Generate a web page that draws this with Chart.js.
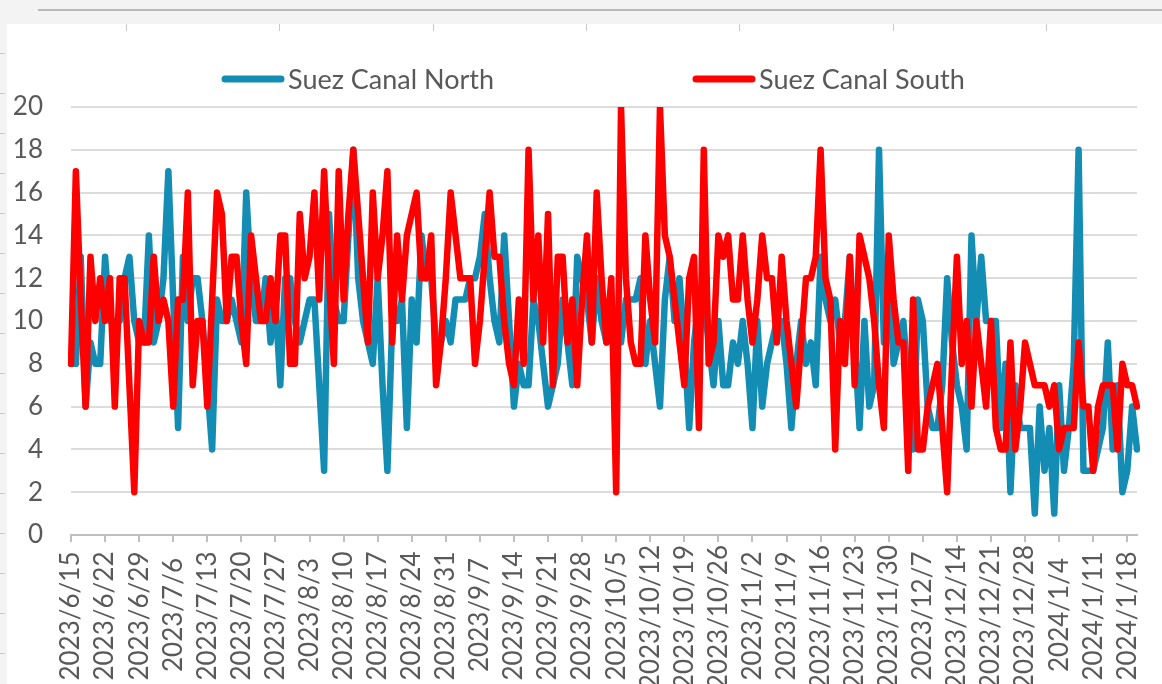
<!DOCTYPE html>
<html>
<head>
<meta charset="utf-8">
<title>Suez Canal North / South</title>
<script src="https://cdn.jsdelivr.net/npm/chart.js@4.4.1/dist/chart.umd.min.js"></script>
<style>
  html, body { margin: 0; padding: 0; width: 1162px; height: 684px; overflow: hidden; background: #f3f3f3; }
  .frame-line { position: absolute; left: 38px; top: 9px; width: 1124px; border-top: 2px solid #b9b9b9; }
  .panel { position: absolute; left: 7px; top: 24px; width: 1155px; height: 660px; background: #ffffff; }
  .chart-box { position: absolute; left: 0; top: 0; width: 1162px; height: 760px; }
</style>
</head>
<body>
<div class="frame-line"></div>
<div class="panel"></div>
<div class="chart-box"><canvas id="chart"></canvas></div>
<script>
// --- datos diarios de tránsitos, 2023/6/15 a 2024/1/20 ---
const START_DATE = [2023, 6, 15];

const TICK_LABELS = [
    '2023/6/15', '2023/6/22', '2023/6/29', '2023/7/6', '2023/7/13', '2023/7/20', '2023/7/27',
    '2023/8/3', '2023/8/10', '2023/8/17', '2023/8/24', '2023/8/31', '2023/9/7', '2023/9/14',
    '2023/9/21', '2023/9/28', '2023/10/5', '2023/10/12', '2023/10/19', '2023/10/26', '2023/11/2',
    '2023/11/9', '2023/11/16', '2023/11/23', '2023/11/30', '2023/12/7', '2023/12/14', '2023/12/21',
    '2023/12/28', '2024/1/4', '2024/1/11', '2024/1/18'
];

const SUEZ_NORTH = [
    8, 8, 13, 6, 9, 8, 8, 13, 10, 10,
    10, 12, 13, 10, 9, 9, 14, 9, 10, 12,
    17, 11, 5, 13, 10, 12, 12, 10, 7, 4,
    11, 10, 10, 11, 10, 9, 16, 12, 10, 10,
    12, 9, 11, 7, 12, 12, 10, 9, 10, 11,
    11, 7, 3, 15, 11, 10, 10, 14, 18, 12,
    10, 9, 8, 12, 7, 3, 10, 10, 11, 5,
    11, 9, 14, 12, 12, 9, 9, 10, 9, 11,
    11, 11, 12, 12, 13, 15, 12, 10, 9, 14,
    10, 6, 8, 7, 7, 11, 10, 8, 6, 7,
    8, 11, 9, 7, 13, 12, 11, 9, 12, 10,
    9, 10, 9, 9, 11, 11, 11, 12, 8, 10,
    8, 6, 11, 13, 10, 12, 9, 5, 9, 11,
    11, 9, 7, 10, 7, 7, 9, 8, 10, 8,
    5, 10, 6, 8, 9, 10, 10, 8, 5, 8,
    10, 8, 9, 7, 13, 11, 10, 11, 9, 10,
    13, 9, 5, 10, 6, 7, 18, 9, 12, 8,
    9, 10, 7, 4, 11, 10, 6, 5, 5, 7,
    12, 9, 7, 6, 4, 14, 10, 13, 10, 10,
    10, 5, 8, 2, 7, 5, 5, 5, 1, 6,
    3, 5, 1, 7, 3, 5, 8, 18, 3, 3,
    3, 4, 5, 9, 4, 7, 2, 3, 6, 4
];

const SUEZ_SOUTH = [
    8, 17, 11, 6, 13, 10, 12, 10, 12, 6,
    12, 12, 7, 2, 10, 9, 9, 13, 10, 11,
    10, 6, 11, 11, 16, 7, 10, 10, 6, 11,
    16, 15, 10, 13, 13, 10, 8, 14, 12, 10,
    10, 12, 10, 14, 14, 8, 8, 15, 12, 13,
    16, 11, 17, 12, 8, 17, 11, 15, 18, 15,
    12, 9, 16, 12, 14, 17, 9, 14, 11, 14,
    15, 16, 12, 12, 14, 7, 9, 12, 16, 14,
    12, 12, 12, 8, 10, 13, 16, 13, 13, 10,
    8, 7, 11, 8, 18, 11, 14, 9, 15, 7,
    13, 13, 9, 11, 7, 11, 14, 9, 16, 12,
    9, 12, 2, 20, 12, 9, 8, 8, 14, 11,
    9, 20, 14, 13, 11, 9, 7, 12, 13, 5,
    18, 8, 9, 14, 13, 14, 11, 11, 14, 11,
    9, 11, 14, 12, 12, 9, 13, 10, 8, 6,
    9, 12, 12, 13, 18, 12, 11, 4, 10, 8,
    13, 7, 14, 13, 12, 10, 7, 5, 14, 11,
    9, 9, 3, 11, 4, 4, 6, 7, 8, 5,
    2, 8, 13, 8, 10, 6, 10, 8, 6, 10,
    5, 4, 4, 9, 4, 6, 9, 8, 7, 7,
    7, 6, 7, 4, 5, 5, 5, 9, 6, 6,
    3, 6, 7, 7, 7, 4, 8, 7, 7, 6
];

const COLOR_NORTH = '#138db3';
const COLOR_SOUTH = '#ff0000';
const TEXT_COLOR = '#595959';
const FONT = 'Lato';

// 1. Etiquetas de fecha diarias (formato 2023/6/15)
function construirFechas(n) {
    const fechas = [];
    const d = new Date(START_DATE[0], START_DATE[1] - 1, START_DATE[2]);
    for (let i = 0; i < n; i++) {
        fechas.push(`${d.getFullYear()}/${d.getMonth() + 1}/${d.getDate()}`);
        d.setDate(d.getDate() + 1);
    }
    return fechas;
}
const FECHAS = construirFechas(SUEZ_NORTH.length);

// 2. Marcas del marco (estilo captura de Excel)
const marcoExcel = {
    id: 'marcoExcel',
    beforeDraw(chart) {
        const ctx = chart.ctx;
        ctx.save();
        ctx.strokeStyle = '#c9c9c9';
        ctx.lineWidth = 1;
        for (let x = 126; x < 1160; x += 153.3) {
            ctx.beginPath(); ctx.moveTo(Math.round(x) + 0.5, 24); ctx.lineTo(Math.round(x) + 0.5, 31); ctx.stroke();
        }
        for (let y = 53; y < 684; y += 40) {
            ctx.beginPath(); ctx.moveTo(0, y + 0.5); ctx.lineTo(5, y + 0.5); ctx.stroke();
        }
        ctx.restore();
    }
};

// 3. Leyenda superior con muestra de línea
const leyendaLineas = {
    id: 'leyendaLineas',
    afterDraw(chart) {
        const ctx = chart.ctx;
        const y = 79;
        const inicios = [222, 693];
        ctx.save();
        ctx.font = `27px ${FONT}`;
        ctx.textBaseline = 'middle';
        ctx.textAlign = 'left';
        chart.data.datasets.forEach((ds, i) => {
            const x = inicios[i];
            ctx.strokeStyle = ds.borderColor;
            ctx.lineWidth = 7;
            ctx.lineCap = 'round';
            ctx.beginPath();
            ctx.moveTo(x + 3, y);
            ctx.lineTo(x + 59, y);
            ctx.stroke();
            ctx.fillStyle = TEXT_COLOR;
            ctx.fillText(ds.label, x + 66, y + 1);
        });
        ctx.restore();
    }
};

const ctx = document.getElementById('chart').getContext('2d');
new Chart(ctx, {
    type: 'line',
    data: {
        labels: FECHAS,
        datasets: [
            {
                label: 'Suez Canal North',
                data: SUEZ_NORTH,
                borderColor: COLOR_NORTH,
                borderWidth: 6.5,
                order: 2
            },
            {
                label: 'Suez Canal South',
                data: SUEZ_SOUTH,
                borderColor: COLOR_SOUTH,
                borderWidth: 6.5,
                order: 1
            }
        ]
    },
    options: {
        responsive: true,
        maintainAspectRatio: false,
        animation: false,
        layout: { padding: { top: 107, right: 25, left: 0, bottom: 0 } },
        elements: {
            point: { radius: 0, hoverRadius: 0 },
            line: { tension: 0, borderJoinStyle: 'round', borderCapStyle: 'round', fill: false }
        },
        plugins: {
            legend: { display: false },
            tooltip: { enabled: false }
        },
        scales: {
            x: {
                offset: false,
                border: { display: true, color: '#bfbfbf', width: 2 },
                grid: { display: true, drawOnChartArea: false, drawTicks: true, tickLength: 7, color: '#bfbfbf', lineWidth: 2 },
                ticks: {
                    autoSkip: false,
                    minRotation: 90,
                    maxRotation: 90,
                    padding: 3,
                    color: TEXT_COLOR,
                    font: { family: FONT, size: 26 },
                    callback(value, index) {
                        const etiqueta = FECHAS[index];
                        if (!TICK_LABELS.includes(etiqueta)) return null;
                        // etiquetas cortas centradas como en Excel
                        return etiqueta + '\u2005'.repeat(10 - etiqueta.length);
                    }
                },
                afterFit(scale) { scale.height = 225; }
            },
            y: {
                min: 0,
                max: 20,
                border: { display: false },
                grid: {
                    drawTicks: false,
                    lineWidth: 2,
                    color: c => (c.tick && c.tick.value === 0) ? 'rgba(0,0,0,0)' : '#dcdcdc'
                },
                ticks: {
                    stepSize: 2,
                    padding: 28,
                    color: TEXT_COLOR,
                    font: { family: FONT, size: 26 }
                },
                afterFit(scale) { scale.width = 71; }
            }
        }
    },
    plugins: [marcoExcel, leyendaLineas]
});
</script>
</body>
</html>
